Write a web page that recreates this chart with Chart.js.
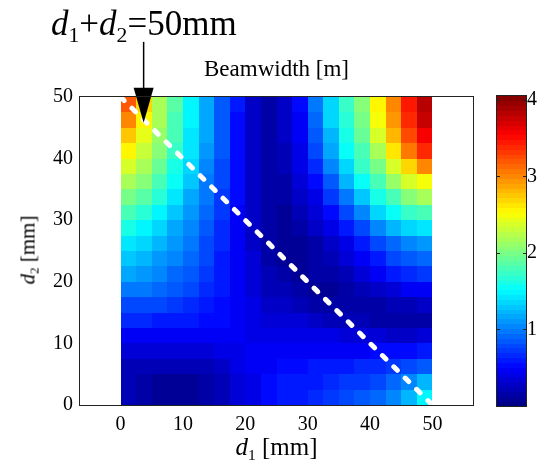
<!DOCTYPE html>
<html>
<head>
<meta charset="utf-8">
<script src="https://cdn.jsdelivr.net/npm/chart.js@4/dist/chart.umd.min.js"></script>
<style>
    body { margin: 0; background: #fff; }
    #wrap { position: relative; width: 537px; height: 468px; font-family: 'Liberation Serif', 'Times New Roman', serif; color: #000; }
    #wrap canvas { position: absolute; left: 0; top: 0; }
    .txt { position: absolute; white-space: nowrap; line-height: 1; }
    .sub { font-size: 0.62em; position: relative; top: 0.3em; }
    #annot { left: 51px; top: 6px; font-size: 35px; }
    #title { left: 80px; width: 393px; text-align: center; top: 57px; font-size: 23px; }
    #xlabel { left: 80px; width: 393px; text-align: center; top: 434px; font-size: 25px; }
    #ylabel { left: 28px; top: 250px; font-size: 21px; transform: translate(-50%, -50%) rotate(-90deg); }
</style>
</head>
<body>
<div id="wrap">
    <canvas id="main" width="537" height="468"></canvas>
    <canvas id="cbar" width="537" height="468"></canvas>
    <div class="txt" id="annot"><i>d</i><span class="sub">1</span>+<i>d</i><span class="sub">2</span>=50mm</div>
    <div class="txt" id="title">Beamwidth [m]</div>
    <div class="txt" id="xlabel"><i>d</i><span class="sub">1</span> [mm]</div>
    <div class="txt" id="ylabel"><i>d</i><span class="sub">2</span> [mm]</div>
</div>
<script>
// beamwidth map, cell centres every 2.5 mm
const d1Centers = [1.25, 3.75, 6.25, 8.75, 11.25, 13.75, 16.25, 18.75, 21.25, 23.75,
                   26.25, 28.75, 31.25, 33.75, 36.25, 38.75, 41.25, 43.75, 46.25, 48.75];
const d2Centers = [48.75, 46.25, 43.75, 41.25, 38.75, 36.25, 33.75, 31.25, 28.75, 26.25,
                   23.75, 21.25, 18.75, 16.25, 13.75, 11.25, 8.75, 6.25, 3.75, 1.25];

// rows follow d2Centers (top to bottom), columns follow d1Centers
const beamwidth = [
    [3.20, 2.66, 2.20, 1.85, 1.50, 1.20, 0.88, 0.57, 0.30, 0.15, 0.30, 0.52, 0.95, 1.37, 1.71, 2.04, 2.54, 3.02, 3.43, 3.85],
    [3.00, 2.58, 2.18, 1.83, 1.48, 1.18, 0.87, 0.56, 0.30, 0.15, 0.29, 0.50, 0.92, 1.33, 1.67, 2.00, 2.48, 2.97, 3.37, 3.76],
    [2.76, 2.46, 2.12, 1.78, 1.45, 1.16, 0.85, 0.55, 0.29, 0.14, 0.27, 0.48, 0.85, 1.26, 1.62, 1.93, 2.36, 2.83, 3.27, 3.58],
    [2.54, 2.34, 2.04, 1.72, 1.40, 1.12, 0.83, 0.54, 0.29, 0.14, 0.24, 0.43, 0.77, 1.15, 1.52, 1.83, 2.20, 2.62, 3.05, 3.37],
    [2.36, 2.20, 1.94, 1.63, 1.34, 1.07, 0.80, 0.53, 0.28, 0.13, 0.20, 0.38, 0.65, 1.02, 1.39, 1.71, 2.01, 2.37, 2.72, 3.00],
    [2.18, 2.04, 1.80, 1.52, 1.27, 1.01, 0.76, 0.52, 0.28, 0.13, 0.17, 0.32, 0.51, 0.87, 1.22, 1.54, 1.81, 2.10, 2.36, 2.52],
    [1.99, 1.87, 1.66, 1.42, 1.19, 0.95, 0.73, 0.51, 0.28, 0.13, 0.13, 0.26, 0.43, 0.70, 1.01, 1.32, 1.59, 1.83, 2.04, 2.16],
    [1.79, 1.68, 1.50, 1.31, 1.10, 0.90, 0.70, 0.50, 0.29, 0.13, 0.12, 0.20, 0.34, 0.51, 0.80, 1.07, 1.33, 1.55, 1.71, 1.80],
    [1.59, 1.50, 1.37, 1.20, 1.02, 0.85, 0.67, 0.50, 0.30, 0.14, 0.12, 0.14, 0.26, 0.40, 0.58, 0.82, 1.04, 1.23, 1.37, 1.45],
    [1.42, 1.36, 1.24, 1.10, 0.96, 0.81, 0.65, 0.49, 0.31, 0.15, 0.12, 0.12, 0.17, 0.30, 0.42, 0.58, 0.77, 0.92, 1.02, 1.09],
    [1.28, 1.22, 1.13, 1.02, 0.90, 0.77, 0.63, 0.48, 0.32, 0.17, 0.12, 0.12, 0.14, 0.22, 0.33, 0.45, 0.62, 0.76, 0.86, 0.90],
    [1.14, 1.09, 1.02, 0.93, 0.84, 0.73, 0.61, 0.47, 0.33, 0.20, 0.14, 0.12, 0.13, 0.17, 0.25, 0.35, 0.47, 0.58, 0.67, 0.70],
    [0.98, 0.95, 0.90, 0.84, 0.77, 0.69, 0.60, 0.48, 0.36, 0.24, 0.20, 0.15, 0.12, 0.12, 0.15, 0.20, 0.28, 0.37, 0.45, 0.48],
    [0.82, 0.80, 0.76, 0.72, 0.67, 0.62, 0.56, 0.49, 0.40, 0.30, 0.27, 0.22, 0.18, 0.15, 0.13, 0.13, 0.15, 0.20, 0.25, 0.28],
    [0.65, 0.64, 0.62, 0.60, 0.57, 0.54, 0.51, 0.47, 0.42, 0.36, 0.35, 0.32, 0.28, 0.25, 0.22, 0.20, 0.18, 0.17, 0.17, 0.18],
    [0.50, 0.48, 0.47, 0.46, 0.46, 0.46, 0.46, 0.45, 0.44, 0.42, 0.43, 0.42, 0.40, 0.38, 0.36, 0.34, 0.32, 0.31, 0.31, 0.33],
    [0.36, 0.34, 0.33, 0.33, 0.34, 0.36, 0.39, 0.42, 0.45, 0.47, 0.50, 0.50, 0.50, 0.50, 0.50, 0.50, 0.51, 0.53, 0.56, 0.60],
    [0.25, 0.21, 0.19, 0.19, 0.21, 0.25, 0.31, 0.38, 0.45, 0.50, 0.55, 0.56, 0.58, 0.60, 0.62, 0.64, 0.68, 0.73, 0.79, 0.86],
    [0.20, 0.13, 0.10, 0.10, 0.12, 0.17, 0.25, 0.34, 0.43, 0.52, 0.58, 0.60, 0.63, 0.66, 0.70, 0.75, 0.82, 0.92, 1.05, 1.22],
    [0.25, 0.14, 0.08, 0.07, 0.09, 0.14, 0.22, 0.32, 0.43, 0.54, 0.60, 0.62, 0.65, 0.70, 0.76, 0.83, 0.93, 1.06, 1.25, 1.50]
];

// d1 + d2 = 50 mm line
const lineD1 = [0, 50];
const lineD2 = [50, 0];
const arrowTip = [3.7, 45.8];

const xTicks = [0, 10, 20, 30, 40, 50];
const yTicks = [0, 10, 20, 30, 40, 50];
const cbTicks = [1, 2, 3, 4];
const cbMin = 0;
const cbMax = 4.05;
const nColors = 64;

const serif = "'Liberation Serif', 'Times New Roman', serif";

function jet(t) {
    const c = v => Math.max(0, Math.min(1, v));
    const r = c(1.5 - Math.abs(4 * t - 3));
    const g = c(1.5 - Math.abs(4 * t - 2));
    const b = c(1.5 - Math.abs(4 * t - 1));
    return `rgb(${Math.round(r * 255)},${Math.round(g * 255)},${Math.round(b * 255)})`;
}

function colorFor(v) {
    const t = (v - cbMin) / (cbMax - cbMin);
    const idx = Math.max(0, Math.min(nColors - 1, Math.floor(t * nColors)));
    return jet((idx + 0.5) / nColors);
}

const heatmapPlugin = {
    id: 'heatmap',
    beforeDatasetsDraw(chart) {
        const { ctx, chartArea, scales: { x, y } } = chart;
        const hx = (d1Centers[1] - d1Centers[0]) / 2;
        const hy = (d2Centers[0] - d2Centers[1]) / 2;
        ctx.save();
        ctx.beginPath();
        ctx.rect(chartArea.left, chartArea.top, chartArea.width, chartArea.height);
        ctx.clip();
        beamwidth.forEach((row, j) => {
            const yTop = Math.round(y.getPixelForValue(d2Centers[j] + hy));
            const yBot = Math.round(y.getPixelForValue(d2Centers[j] - hy));
            row.forEach((v, i) => {
                const xL = Math.round(x.getPixelForValue(d1Centers[i] - hx));
                const xR = Math.round(x.getPixelForValue(d1Centers[i] + hx));
                ctx.fillStyle = colorFor(v);
                ctx.fillRect(xL, yTop, xR - xL, yBot - yTop);
            });
        });
        ctx.restore();
    }
};

const framePlugin = {
    id: 'frame',
    afterDraw(chart) {
        const { ctx, chartArea: a } = chart;
        ctx.save();
        ctx.strokeStyle = '#222';
        ctx.lineWidth = 1;
        ctx.strokeRect(a.left - 0.5, a.top - 0.5, a.width + 1, a.height + 1);
        ctx.restore();
    }
};

const arrowPlugin = {
    id: 'arrow',
    afterDatasetsDraw(chart) {
        const { ctx, scales: { x, y } } = chart;
        const tx = x.getPixelForValue(arrowTip[0]);
        const ty = y.getPixelForValue(arrowTip[1]);
        ctx.save();
        ctx.strokeStyle = '#000';
        ctx.fillStyle = '#000';
        ctx.lineWidth = 1.5;
        ctx.beginPath();
        ctx.moveTo(tx, ty - 81);
        ctx.lineTo(tx, ty - 34);
        ctx.stroke();
        ctx.beginPath();
        ctx.moveTo(tx - 10, ty - 35);
        ctx.lineTo(tx + 10, ty - 35);
        ctx.lineTo(tx, ty);
        ctx.closePath();
        ctx.fill();
        ctx.restore();
    }
};

const colorbarPlugin = {
    id: 'colorbar',
    beforeDatasetsDraw(chart) {
        const { ctx, chartArea: a, scales: { y } } = chart;
        ctx.save();
        for (let k = 0; k < nColors; k++) {
            const v0 = cbMin + k * (cbMax - cbMin) / nColors;
            const v1 = cbMin + (k + 1) * (cbMax - cbMin) / nColors;
            const y0 = y.getPixelForValue(v0);
            const y1 = y.getPixelForValue(v1);
            ctx.fillStyle = jet((k + 0.5) / nColors);
            ctx.fillRect(a.left, Math.floor(y1), a.width, Math.ceil(y0) - Math.floor(y1));
        }
        ctx.strokeStyle = '#222';
        ctx.lineWidth = 1;
        ctx.strokeRect(a.left - 0.5, a.top - 0.5, a.width + 1, a.height + 1);
        cbTicks.forEach(v => {
            const py = Math.round(y.getPixelForValue(v)) + 0.5;
            ctx.beginPath();
            ctx.moveTo(a.left, py);
            ctx.lineTo(a.left + 3, py);
            ctx.moveTo(a.right, py);
            ctx.lineTo(a.right - 3, py);
            ctx.stroke();
        });
        ctx.restore();
    }
};

function tickFont() {
    return { family: serif, size: 20 };
}

new Chart(document.getElementById('main'), {
    type: 'scatter',
    data: {
        datasets: [{
            type: 'line',
            data: lineD1.map((d1, i) => ({ x: d1, y: lineD2[i] })),
            borderColor: '#ffffff',
            borderWidth: 5,
            borderDash: [5, 11],
            borderCapStyle: 'round',
            pointRadius: 0,
            fill: false,
            tension: 0
        }]
    },
    options: {
        responsive: false,
        animation: false,
        layout: { padding: { top: 97, right: 64, left: 0, bottom: 0 } },
        plugins: { legend: { display: false }, tooltip: { enabled: false } },
        scales: {
            x: {
                type: 'linear',
                min: -6.5,
                max: 56.5,
                afterBuildTicks: s => { s.ticks = xTicks.map(v => ({ value: v })); },
                afterFit: s => { s.height = 63; },
                grid: { display: false, drawTicks: false },
                border: { display: false },
                ticks: { font: tickFont(), color: '#000', padding: 8, maxRotation: 0 }
            },
            y: {
                type: 'linear',
                min: 0,
                max: 50,
                afterBuildTicks: s => { s.ticks = yTicks.map(v => ({ value: v })); },
                afterFit: s => { s.width = 80; },
                grid: { display: false, drawTicks: false },
                border: { display: false },
                ticks: { font: tickFont(), color: '#000', padding: 7 }
            }
        }
    },
    plugins: [heatmapPlugin, framePlugin, arrowPlugin]
});

new Chart(document.getElementById('cbar'), {
    type: 'scatter',
    data: { datasets: [] },
    options: {
        responsive: false,
        animation: false,
        layout: { padding: { top: 96, bottom: 62, left: 497, right: 0 } },
        plugins: { legend: { display: false }, tooltip: { enabled: false } },
        scales: {
            x: { display: false, min: 0, max: 1 },
            y: {
                position: 'right',
                min: cbMin,
                max: cbMax,
                afterBuildTicks: s => { s.ticks = cbTicks.map(v => ({ value: v })); },
                afterFit: s => { s.width = 11; },
                grid: { display: false, drawTicks: false },
                border: { display: false },
                ticks: { font: tickFont(), color: '#000', padding: 1 }
            }
        }
    },
    plugins: [colorbarPlugin]
});
</script>
</body>
</html>
